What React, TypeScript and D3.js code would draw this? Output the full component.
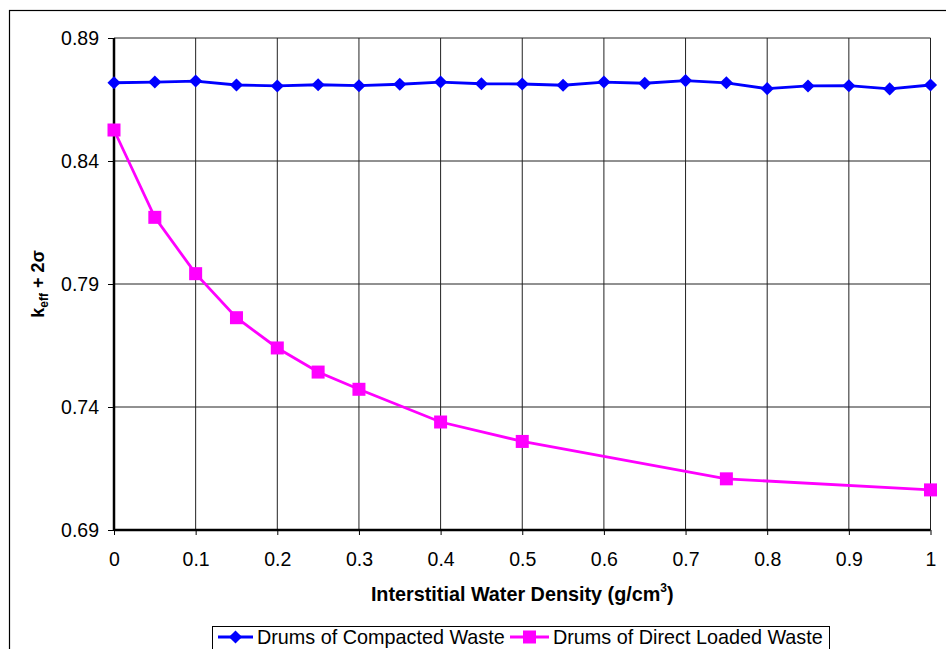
import * as d3 from "d3";
import React, { useEffect, useRef } from "react";

// water density steps (g/cm3)
const compactedX = [
  0, 0.05, 0.1, 0.15, 0.2, 0.25, 0.3, 0.35, 0.4, 0.45, 0.5, 0.55, 0.6, 0.65,
  0.7, 0.75, 0.8, 0.85, 0.9, 0.95, 1,
];
const compactedK = [
  0.8718, 0.8721, 0.8725, 0.8709, 0.8705, 0.871, 0.8706, 0.8712, 0.8721,
  0.8714, 0.8713, 0.8708, 0.8721, 0.8716, 0.8727, 0.8718, 0.8694, 0.8705,
  0.8706, 0.8693, 0.8709,
];
const directX = [0, 0.05, 0.1, 0.15, 0.2, 0.25, 0.3, 0.4, 0.5, 0.75, 1];
const directK = [
  0.8526, 0.8171, 0.7942, 0.7763, 0.764, 0.7542, 0.7472, 0.7339, 0.726,
  0.7108, 0.7063,
];
const xTicks = [0, 0.1, 0.2, 0.3, 0.4, 0.5, 0.6, 0.7, 0.8, 0.9, 1];
const yTicks = [0.69, 0.74, 0.79, 0.84, 0.89];
const seriesNames = ["Drums of Compacted Waste", "Drums of Direct Loaded Waste"];

const W = 946;
const H = 649;
const left = 114;
const right = 930.5;
const top = 38;
const bottom = 530;
const FONT = "'Liberation Sans', Arial, sans-serif";

const App: React.FC = () => {
  const svgRef = useRef<SVGSVGElement>(null);

  useEffect(() => {
    const svg = d3.select(svgRef.current);
    svg.selectAll("*").remove();

    const x = d3.scaleLinear().domain([0, 1]).range([left, right]);
    const y = d3.scaleLinear().domain([0.69, 0.89]).range([bottom, top]);

    // outer chart border
    svg
      .append("rect")
      .attr("x", 9.5)
      .attr("y", 10.5)
      .attr("width", W + 20)
      .attr("height", H + 20)
      .attr("fill", "white")
      .attr("stroke", "#000")
      .attr("stroke-width", 1.2);

    // grid
    const grid = svg.append("g").attr("stroke", "#222").attr("stroke-width", 1);
    grid
      .selectAll("line.v")
      .data(xTicks)
      .join("line")
      .attr("x1", (d) => x(d))
      .attr("x2", (d) => x(d))
      .attr("y1", top)
      .attr("y2", bottom);
    grid
      .selectAll("line.h")
      .data(yTicks)
      .join("line")
      .attr("x1", left)
      .attr("x2", right)
      .attr("y1", (d) => y(d))
      .attr("y2", (d) => y(d));

    // axes
    const yAxis = svg
      .append("g")
      .attr("transform", `translate(${left},0)`)
      .call(d3.axisLeft(y).tickValues(yTicks).tickFormat(d3.format(".2f")).tickSize(6).tickPadding(9));
    yAxis.select(".domain").attr("stroke-width", 2.5).attr("d", `M0,${top}V${bottom}`);
    yAxis.selectAll("text").style("font-family", FONT).style("font-size", "19.5px").attr("fill", "#000");

    const xAxis = svg
      .append("g")
      .attr("transform", `translate(0,${bottom})`)
      .call(d3.axisBottom(x).tickValues(xTicks).tickFormat((d) => `${d}`).tickSize(5).tickPadding(17));
    xAxis.select(".domain").attr("stroke-width", 2.5).attr("d", `M${left},0H${right}`);
    xAxis.selectAll("text").style("font-family", FONT).style("font-size", "19.5px").attr("fill", "#000");

    // axis titles
    const xt = svg
      .append("text")
      .attr("x", (left + right) / 2)
      .attr("y", 601)
      .attr("text-anchor", "middle")
      .style("font-family", FONT)
      .style("font-size", "19.8px")
      .style("font-weight", "bold")
      .text("Interstitial Water Density (g/cm");
    xt.append("tspan").attr("dy", -9).style("font-size", "12px").text("3");
    xt.append("tspan").attr("dy", 9).text(")");

    const yt = svg
      .append("text")
      .attr("transform", `translate(44,284) rotate(-90)`)
      .attr("text-anchor", "middle")
      .style("font-family", FONT)
      .style("font-size", "18px")
      .style("font-weight", "bold")
      .text("k");
    yt.append("tspan").attr("dy", 4).style("font-size", "12px").text("eff");
    yt.append("tspan").attr("dy", -4).text(" + 2σ");

    // series
    const line = d3
      .line<[number, number]>()
      .x((d) => x(d[0]))
      .y((d) => y(d[1]));
    const compacted = compactedX.map((v, i) => [v, compactedK[i]] as [number, number]);
    const direct = directX.map((v, i) => [v, directK[i]] as [number, number]);

    svg
      .append("path")
      .attr("d", line(direct))
      .attr("fill", "none")
      .attr("stroke", "#ff00ff")
      .attr("stroke-width", 2.8);
    svg
      .append("g")
      .selectAll("rect")
      .data(direct)
      .join("rect")
      .attr("x", (d) => x(d[0]) - 6.5)
      .attr("y", (d) => y(d[1]) - 6.5)
      .attr("width", 13)
      .attr("height", 13)
      .attr("fill", "#ff00ff");

    svg
      .append("path")
      .attr("d", line(compacted))
      .attr("fill", "none")
      .attr("stroke", "#0000ff")
      .attr("stroke-width", 2.8);
    const diamond = d3.symbol().type(d3.symbolDiamond2).size(110);
    svg
      .append("g")
      .selectAll("path")
      .data(compacted)
      .join("path")
      .attr("d", diamond)
      .attr("transform", (d) => `translate(${x(d[0])},${y(d[1])})`)
      .attr("fill", "#0000ff");

    // legend
    const lg = svg.append("g");
    lg.append("rect")
      .attr("x", 212.5)
      .attr("y", 626.5)
      .attr("width", 617)
      .attr("height", 40)
      .attr("fill", "white")
      .attr("stroke", "#000")
      .attr("stroke-width", 1);
    const ly = 637;
    lg.append("line").attr("x1", 218).attr("x2", 253).attr("y1", ly).attr("y2", ly).attr("stroke", "#0000ff").attr("stroke-width", 2.8);
    lg.append("path").attr("d", diamond).attr("transform", `translate(235.5,${ly})`).attr("fill", "#0000ff");
    lg.append("line").attr("x1", 510).attr("x2", 549).attr("y1", ly).attr("y2", ly).attr("stroke", "#ff00ff").attr("stroke-width", 2.8);
    lg.append("rect").attr("x", 523).attr("y", ly - 6.5).attr("width", 13).attr("height", 13).attr("fill", "#ff00ff");
    lg.selectAll("text.l")
      .data(seriesNames)
      .join("text")
      .attr("x", (_, i) => (i === 0 ? 257 : 553))
      .attr("y", ly + 7)
      .style("font-family", FONT)
      .style("font-size", "19.8px")
      .text((d) => d);
  }, []);

  return (
    <svg
      ref={svgRef}
      width={W}
      height={H}
      style={{ position: "absolute", left: 0, top: 0, background: "white" }}
    />
  );
};

export default App;
